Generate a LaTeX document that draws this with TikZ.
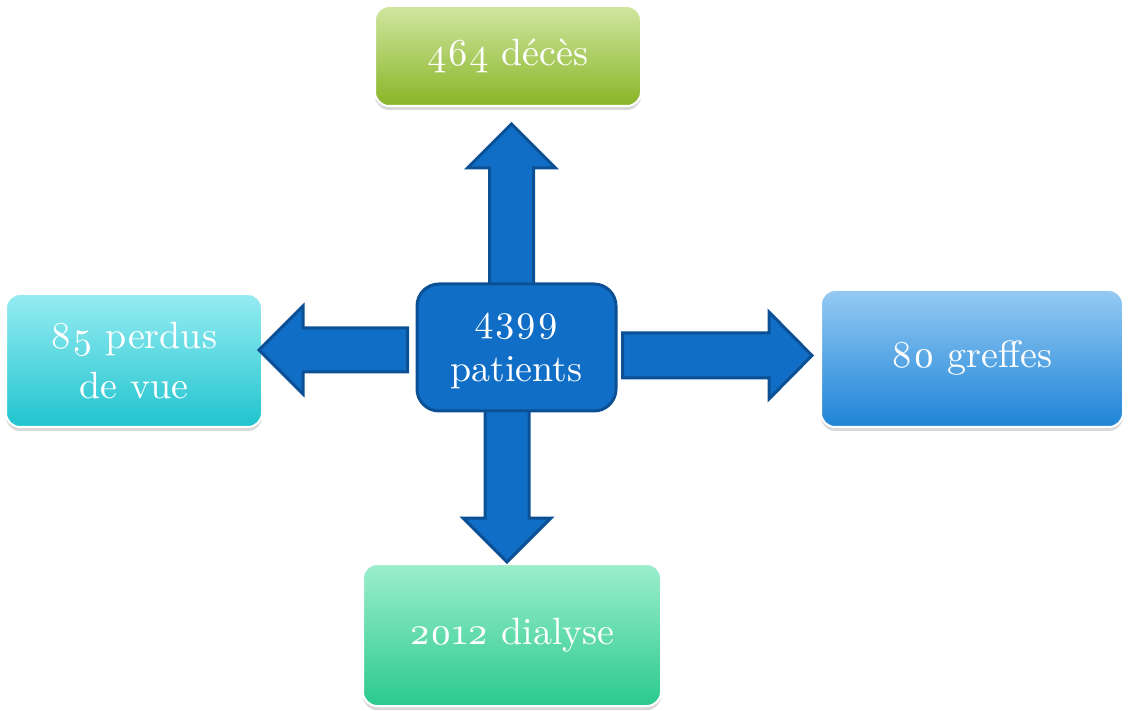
\documentclass[tikz,border=0pt]{standalone}
\usepackage{fontspec}
\setmainfont{lmroman10-regular}[Extension=.otf, Numbers=OldStyle]
\usetikzlibrary{positioning, calc, shadows}
\definecolor{hubblue}{RGB}{17,110,198}
\definecolor{hubline}{RGB}{11,80,148}
\definecolor{decLight}{RGB}{208,230,160}
\definecolor{decDark}{RGB}{138,181,40}
\definecolor{lostLight}{RGB}{150,236,242}
\definecolor{lostDark}{RGB}{32,196,206}
\definecolor{graftLight}{RGB}{148,202,244}
\definecolor{graftDark}{RGB}{30,132,214}
\definecolor{dialLight}{RGB}{156,238,204}
\definecolor{dialDark}{RGB}{42,202,140}
\pgfdeclarelayer{front}
\pgfsetlayers{main,front}

\begin{document}
\begin{tikzpicture}[
    x=1pt, y=1pt,
    outcome/.style={rectangle, rounded corners=14pt, draw=white, line width=2pt, text=white, align=center, inner sep=2pt, font=\fontsize{38}{50}\selectfont, drop shadow={opacity=0.3, shadow xshift=0pt, shadow yshift=-4pt}},
    hubbox/.style={rectangle, rounded corners=22pt, draw=hubline, fill=hubblue, line width=3pt, text=white, align=center, inner sep=2pt, font=\fontsize{38}{50}\selectfont},
    blockarrow/.style={draw=hubline, fill=hubblue, line width=3pt, line join=miter}
]
\useasboundingbox (0,0) rectangle (1129,710);

% Outcomes
\node[outcome, top color=decLight, bottom color=decDark, minimum width=266pt, minimum height=100pt] (deces) at (508,654) {464 décès};
\node[outcome, top color=lostLight, bottom color=lostDark, minimum width=256pt, minimum height=133pt] (perdus) at (134,349.5) {85 perdus\\de vue};
\node[outcome, top color=graftLight, bottom color=graftDark, minimum width=302pt, minimum height=137pt] (greffes) at (972,351.5) {80 greffes};
\node[outcome, top color=dialLight, bottom color=dialDark, minimum width=298pt, minimum height=142pt] (dialyse) at (512,75) {2012 dialyse};

% Patients
\begin{pgfonlayer}{front}
\node[hubbox, minimum width=199pt, minimum height=127pt, text depth=-19pt] (hub) at (516.5,362.5) {4399\\patients};
\end{pgfonlayer}

% Arrow tips
\coordinate (upTip) at (511.5,586);
\coordinate (downTip) at (507,148);
\coordinate (leftTip) at (259,360);
\coordinate (rightTip) at (812,354.5);

% Arrows
\draw[blockarrow] (upTip) -- ++(-44,-44) -- ++(22,0) -- ($(upTip |- hub.north)+(-22,-6)$) -- ++(44,0) -- ($(upTip)+(22,-44)$) -- ++(22,0) -- cycle;
\draw[blockarrow] (downTip) -- ++(-44,44) -- ++(22,0) -- ($(downTip |- hub.south)+(-22,6)$) -- ++(44,0) -- ($(downTip)+(22,44)$) -- ++(22,0) -- cycle;
\draw[blockarrow] (leftTip) -- ++(44,44) -- ++(0,-22) -- ($(leftTip -| hub.west)+(-8,22)$) -- ++(0,-44) -- ($(leftTip)+(44,-22)$) -- ++(0,-22) -- cycle;
\draw[blockarrow] (rightTip) -- ++(-43,43.5) -- ++(0,-21) -- ($(rightTip -| hub.east)+(5,22.5)$) -- ++(0,-45) -- ($(rightTip)+(-43,-22.5)$) -- ++(0,-21) -- cycle;

\end{tikzpicture}
\end{document}
